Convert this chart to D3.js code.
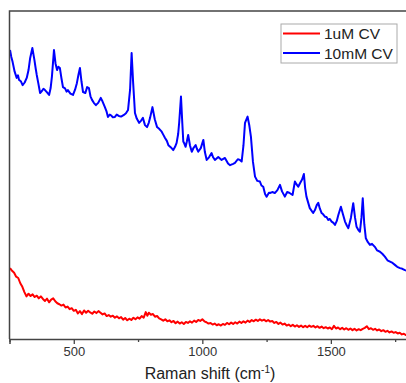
<!DOCTYPE html>
<html>
<head>
<meta charset="utf-8">
<script src="https://cdn.jsdelivr.net/npm/d3@7"></script>
<style>
  body { margin: 0; background: #fff; }
  text { font-family: "Liberation Sans", Arial, sans-serif; }
</style>
</head>
<body>
<div id="chartdiv"></div>
<script>
// 10mM CV spectrum: [raman shift, intensity]
var blueSeries = [
  [252,88.1],[257,86.0],[262,84.5],[270,81.5],[278,79.6],[283,80.4],[287,79.0],[294,78.6],[301,77.4],
  [309,78.2],[317,79.6],[324,82.0],[330,85.5],[339,88.7],[347,85.0],[352,82.4],[356,80.5],[362,78.0],
  [369,75.0],[376,75.6],[382,76.3],[388,75.9],[396,75.2],[404,74.4],[410,76.5],[415,80.0],[423,88.1],
  [429,84.0],[435,82.0],[440,83.0],[446,82.6],[452,79.5],[458,76.8],[466,76.4],[472,75.4],[477,75.9],
  [487,74.8],[497,74.4],[505,76.0],[512,78.0],[518,80.5],[524,82.6],[530,78.5],[536,75.3],[545,75.0],
  [552,76.8],[559,76.5],[565,74.0],[571,72.9],[578,72.0],[586,71.3],[595,72.0],[605,73.5],[612,72.4],
  [621,70.7],[627,69.5],[633,67.7],[640,68.4],[645,68.2],[652,67.6],[660,67.7],[667,68.4],[675,68.0],
  [684,67.8],[695,68.3],[703,68.8],[711,69.8],[719,76.0],[725,87.2],[731,78.0],[738,68.9],[745,67.2],
  [754,65.9],[762,66.6],[769,67.4],[777,65.2],[785,64.6],[792,66.0],[797,67.5],[806,70.7],[815,67.0],
  [824,64.6],[833,64.0],[842,63.2],[848,62.3],[855,61.3],[862,60.4],[868,59.1],[878,58.4],[887,57.6],
  [894,58.6],[900,59.8],[906,62.5],[910,66.0],[917,73.9],[922,66.0],[926,60.2],[930,59.6],[935,58.6],
  [940,60.3],[945,62.2],[952,59.0],[959,57.1],[966,58.3],[974,59.1],[979,58.0],[984,57.1],[994,58.2],
  [1004,60.7],[1010,57.0],[1017,54.6],[1026,55.4],[1036,56.7],[1042,55.4],[1049,54.6],[1062,55.5],
  [1075,54.6],[1088,55.2],[1100,53.5],[1108,53.0],[1120,53.4],[1127,53.7],[1138,54.8],[1146,54.6],
  [1153,54.1],[1160,59.0],[1166,65.9],[1176,67.8],[1183,65.0],[1189,61.7],[1197,54.0],[1205,49.5],
  [1214,48.2],[1224,48.0],[1230,46.8],[1237,46.4],[1244,44.2],[1250,43.4],[1259,44.6],[1263,44.5],
  [1272,44.8],[1282,44.5],[1292,45.4],[1302,47.0],[1310,45.0],[1321,43.4],[1330,44.8],[1338,44.6],
  [1351,43.9],[1360,48.0],[1366,47.2],[1373,46.4],[1380,47.5],[1388,48.6],[1395,50.3],[1400,46.0],
  [1405,43.4],[1412,41.5],[1418,39.9],[1431,38.4],[1438,39.3],[1445,40.8],[1451,41.5],[1457,39.8],
  [1464,38.4],[1470,38.0],[1477,37.3],[1483,37.2],[1490,36.3],[1496,36.6],[1503,35.8],[1510,35.4],
  [1516,34.8],[1523,36.0],[1529,37.8],[1539,40.3],[1547,38.0],[1555,35.8],[1562,34.6],[1568,33.8],
  [1578,37.0],[1587,41.4],[1594,37.0],[1600,34.2],[1607,33.2],[1613,32.7],[1619,37.0],[1624,42.9],
  [1630,35.0],[1636,30.7],[1644,29.5],[1652,28.7],[1660,29.0],[1671,28.1],[1680,27.0],[1691,26.6],
  [1700,26.0],[1710,25.1],[1720,24.0],[1730,23.6],[1740,23.2],[1749,22.6],[1758,22.0],[1769,21.6],
  [1778,21.4],[1788,21.0],[1800,20.7]
];

// 1uM CV spectrum: [raman shift, intensity]
var redSeries = [
  [252,21.6],[260,20.8],[268,20.2],[276,19.0],[284,18.6],[292,17.0],[300,15.9],[308,14.3],[316,13.0],
  [324,13.8],[332,13.1],[340,13.6],[348,12.8],[356,13.2],[364,12.4],[372,13.0],[380,12.2],[388,11.6],
  [396,12.3],[404,11.2],[412,12.0],[420,12.4],[428,11.5],[436,10.9],[444,10.6],[452,10.2],[460,10.5],
  [468,9.6],[476,9.9],[484,9.1],[492,9.4],[500,8.6],[508,8.9],[516,7.8],[524,8.5],[532,7.6],[540,8.7],
  [548,8.0],[556,8.6],[564,8.1],[572,7.7],[580,8.4],[588,7.9],[596,8.5],[604,8.0],[612,7.5],[620,7.8],
  [628,7.0],[636,7.3],[644,6.8],[652,7.1],[660,6.5],[668,6.9],[676,6.3],[684,6.7],[692,5.9],[700,6.4],
  [708,5.7],[716,6.2],[724,5.8],[732,6.5],[740,6.0],[748,6.6],[756,6.2],[764,7.0],[772,6.5],[780,8.2],
  [786,7.1],[792,8.0],[800,7.4],[808,7.6],[816,6.8],[824,7.0],[832,6.3],[840,6.0],[848,5.6],[856,6.0],
  [864,5.4],[872,5.7],[880,5.1],[888,5.5],[896,4.8],[904,5.3],[912,4.7],[920,5.1],[928,4.6],[936,5.2],
  [944,4.9],[952,5.4],[960,5.0],[968,5.6],[976,5.2],[984,5.8],[992,5.5],[1000,6.0],[1008,5.4],[1016,5.1],
  [1024,4.7],[1032,4.9],[1040,4.4],[1048,4.7],[1056,4.2],[1064,4.5],[1072,4.1],[1080,4.6],[1088,4.3],
  [1096,4.9],[1104,4.5],[1112,5.0],[1120,4.6],[1128,5.1],[1136,4.7],[1144,5.3],[1152,4.9],[1160,5.4],
  [1168,5.0],[1176,5.6],[1184,5.2],[1192,5.8],[1200,5.4],[1208,5.9],[1216,5.5],[1224,6.0],[1232,5.6],
  [1240,5.9],[1248,5.4],[1256,5.8],[1264,5.3],[1272,5.5],[1280,4.9],[1288,5.2],[1296,4.6],[1304,5.0],
  [1312,4.4],[1320,4.7],[1328,4.1],[1336,4.4],[1344,3.9],[1352,4.3],[1360,3.8],[1368,4.2],[1376,3.7],
  [1384,4.1],[1392,3.6],[1400,4.0],[1408,3.6],[1416,4.1],[1424,3.7],[1432,4.0],[1440,3.5],[1448,3.9],
  [1456,3.4],[1464,3.8],[1472,3.3],[1480,3.6],[1488,3.2],[1496,3.5],[1504,3.0],[1512,4.0],[1520,3.2],
  [1528,3.5],[1536,3.0],[1544,3.4],[1552,2.9],[1560,3.3],[1568,2.8],[1576,3.2],[1584,2.7],[1592,3.1],
  [1600,2.6],[1608,3.0],[1616,2.7],[1624,3.1],[1632,3.4],[1640,3.9],[1648,3.0],[1656,3.3],[1664,2.8],
  [1672,3.1],[1680,2.6],[1688,2.9],[1696,2.4],[1704,2.7],[1712,2.2],[1720,2.5],[1728,2.0],[1736,2.3],
  [1744,1.9],[1752,2.1],[1760,1.7],[1768,1.9],[1776,1.4],[1784,1.6],[1792,1.2],[1800,1.1]
];

var seriesNames = ["1uM CV", "10mM CV"];
var seriesColors = ["#ff0000", "#0000ff"];
var majorTicks = [500, 1000, 1500];
var minorTicks = [250, 750, 1250, 1750];
var xDomain = [250, 1800];
var yDomain = [0, 100];

var margin = {top: 11, right: -2, bottom: 44, left: 9.5},
    totalW = 406, totalH = 383,
    width = totalW - margin.left - margin.right,
    height = totalH - margin.top - margin.bottom;

var svg = d3.select("#chartdiv").append("svg")
    .attr("width", totalW)
    .attr("height", totalH)
  .append("g")
    .attr("transform", "translate(" + margin.left + "," + margin.top + ")");

var x = d3.scaleLinear().domain(xDomain).range([0, width]);
var y = d3.scaleLinear().domain(yDomain).range([height, 0]);

var line = d3.line()
    .x(d => x(d[0]))
    .y(d => y(d[1]));

// spectra
svg.append("path")
    .datum(redSeries)
    .attr("fill", "none")
    .attr("stroke", seriesColors[0])
    .attr("stroke-width", 2)
    .attr("stroke-linejoin", "round")
    .attr("d", line);

svg.append("path")
    .datum(blueSeries)
    .attr("fill", "none")
    .attr("stroke", seriesColors[1])
    .attr("stroke-width", 2)
    .attr("stroke-linejoin", "round")
    .attr("d", line);

// frame (left + top)
svg.append("path")
    .attr("d", "M" + x(xDomain[1]) + ",0H0V" + height)
    .attr("fill", "none")
    .attr("stroke", "#444")
    .attr("stroke-width", 1.5);

// bottom axis, major + minor
var xAxis = svg.append("g")
    .attr("class", "xaxis")
    .attr("transform", "translate(0," + height + ")")
    .call(d3.axisBottom(x).tickValues(majorTicks).tickSize(5).tickFormat(d3.format("d")));

svg.append("g")
    .attr("transform", "translate(0," + height + ")")
    .call(d3.axisBottom(x).tickValues(minorTicks).tickSize(3).tickFormat(""))
    .call(g => g.select(".domain").remove())
    .selectAll("line")
      .attr("stroke", "#444")
      .attr("stroke-width", 1.3);

xAxis.select(".domain")
    .attr("stroke", "#444")
    .attr("stroke-width", 1.5);
xAxis.selectAll(".tick line")
    .attr("stroke", "#444")
    .attr("stroke-width", 1.3);
xAxis.selectAll("text")
    .attr("font-size", "13px")
    .attr("fill", "#333")
    .attr("y", 8)
    .attr("font-family", "Liberation Sans, Arial, sans-serif");

// axis title
var title = svg.append("text")
    .attr("x", 210 - margin.left)
    .attr("y", height + 40)
    .attr("text-anchor", "middle")
    .attr("font-size", "16px")
    .attr("fill", "#222");
title.append("tspan").text("Raman shift (cm");
title.append("tspan").attr("dy", -6).attr("font-size", "10px").text("-1");
title.append("tspan").attr("dy", 6).text(")");

// legend
var legend = svg.append("g")
    .attr("transform", "translate(" + (281 - margin.left) + "," + (24 - margin.top) + ")");

legend.append("rect")
    .attr("width", 116)
    .attr("height", 39)
    .attr("fill", "#fff")
    .attr("stroke", "#aaa")
    .attr("stroke-width", 1);

seriesNames.forEach((name, i) => {
  var ly = 9.5 + i * 19.5;
  legend.append("line")
      .attr("x1", 2).attr("x2", 39)
      .attr("y1", ly).attr("y2", ly)
      .attr("stroke", seriesColors[i])
      .attr("stroke-width", 1.8);
  legend.append("text")
      .attr("x", 43)
      .attr("y", ly + 5.5)
      .attr("font-size", "15.5px")
      .attr("fill", "#222")
      .text(name);
});
</script>
</body>
</html>
